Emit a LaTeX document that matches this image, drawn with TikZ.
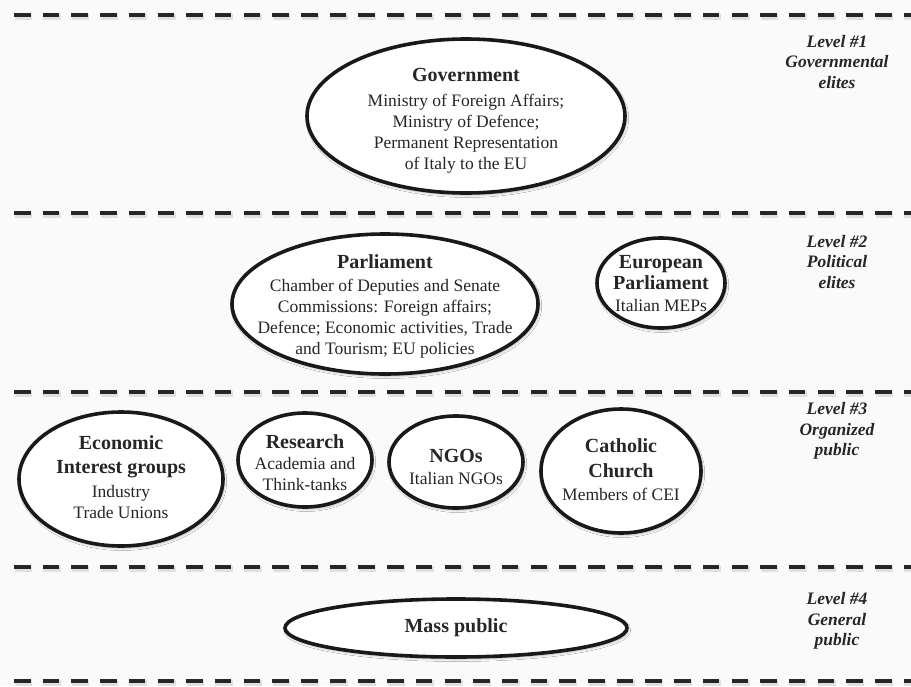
\documentclass[tikz,border=0pt]{standalone}
\usepackage{fontspec}
\setmainfont{Liberation Serif}
\usetikzlibrary{shapes.geometric,shadows.blur}

\newcommand\headline[1]{{\fontsize{20}{25}\selectfont\bfseries #1}}

\begin{document}
\begin{tikzpicture}[x=1pt,y=-1pt,
  every node/.style={inner sep=0pt, outer sep=0pt},
  actor/.style={ellipse, draw=black!90, line width=3.6pt, fill=white,
    blur shadow={shadow xshift=1.2pt, shadow yshift=-2pt,
                 shadow blur radius=2.5pt, shadow opacity=30}},
  bodytext/.style={align=center, font=\fontsize{17.5}{21}\selectfont, text=black!85},
  leveltext/.style={align=center, font=\fontsize{17.5}{20.5}\selectfont\bfseries\itshape, text=black!85},
  divider/.style={line width=4.5pt, draw=black!85, dash pattern=on 16.5pt off 12.2pt},
  dividershade/.style={line width=6pt, draw=black, opacity=0.10, dash pattern=on 17.5pt off 11.2pt}
]
% page and background
\useasboundingbox (0,0) rectangle (911,686);
\fill[white!98!black] (0,0) rectangle (911,686);

% level separators
\foreach \i/\y in {1/15,2/213,3/392,4/567,5/681}{
  \coordinate (sep\i a) at (14,\y);
  \coordinate (sep\i b) at (911,\y);
  \draw[dividershade] ([shift={(0.5,1.8)}]sep\i a) -- ([shift={(0.5,1.8)}]sep\i b);
  \draw[divider] (sep\i a) -- (sep\i b);
}

% level 1: governmental elites
\node[actor, minimum width=318pt, minimum height=154pt] (gov) at (466,116) {};
\node[bodytext] (govtext) at (466,121)
  {\headline{Government}\\[4pt]
   Ministry of Foreign Affairs;\\
   Ministry of Defence;\\
   Permanent Representation\\
   of Italy to the EU};

% level 2: political elites
\node[actor, minimum width=306pt, minimum height=140pt] (parl) at (385,304) {};
\node[bodytext] (parltext) at (385,306)
  {\headline{Parliament}\\[2pt]
   Chamber of Deputies and Senate\\
   Commissions: Foreign affairs;\\
   Defence; Economic activities, Trade\\
   and Tourism; EU policies};

\node[actor, minimum width=128pt, minimum height=90pt] (ep) at (661,283) {};
\node[bodytext] (eptext) at (661,284)
  {\headline{European}\\[0pt]
   \headline{Parliament}\\[1pt]
   Italian MEPs};

% level 3: organized public
\node[actor, minimum width=204pt, minimum height=134pt] (econ) at (121,479) {};
\node[bodytext] (econtext) at (121,477)
  {\headline{Economic}\\[3pt]
   \headline{Interest groups}\\[3pt]
   Industry\\
   Trade Unions};

\node[actor, minimum width=134pt, minimum height=94pt] (res) at (305,460) {};
\node[bodytext] (restext) at (305,463)
  {\headline{Research}\\
   Academia and\\
   Think-tanks};

\node[actor, minimum width=134pt, minimum height=92pt] (ngo) at (456,462) {};
\node[bodytext] (ngotext) at (456,467)
  {\headline{NGOs}\\[1pt]
   Italian NGOs};

\node[actor, minimum width=160pt, minimum height=124pt] (cath) at (621,471) {};
\node[bodytext] (cathtext) at (621,470)
  {\headline{Catholic}\\[4pt]
   \headline{Church}\\[2pt]
   Members of CEI};

% level 4: general public
\node[actor, minimum width=342pt, minimum height=58pt] (mass) at (456,628) {};
\node[bodytext] (masstext) at (456,628) {\headline{Mass public}};

% level captions
\node[leveltext] (lv1) at (837,62) {Level \#1\\Governmental\\elites};
\node[leveltext] (lv2) at (837,262) {Level \#2\\Political\\elites};
\node[leveltext] (lv3) at (837,431) {Level \#3\\Organized\\public};
\node[leveltext] (lv4) at (837,621) {Level \#4\\General\\public};
\end{tikzpicture}
\end{document}
